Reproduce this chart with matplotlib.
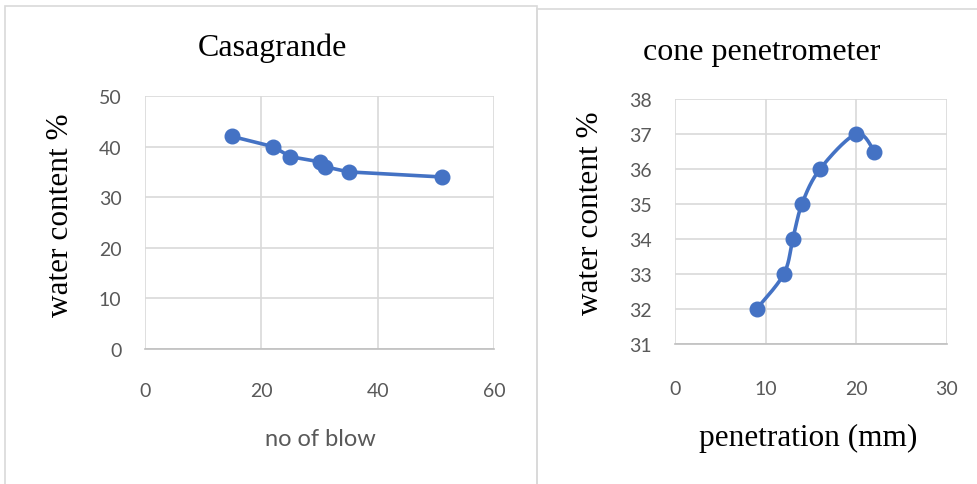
import numpy as np
import matplotlib
matplotlib.use("Agg")
import matplotlib.pyplot as plt
from matplotlib.patches import Rectangle

# ---- data ----
blows = [15, 22, 25, 30, 31, 35, 51]
wc_casa = [42, 40, 38, 37, 36, 35, 34]

penetration = [9, 12, 13, 14, 16, 20, 22]
wc_cone = [32, 33, 34, 35, 36, 37, 36.5]

left_xticks = [0, 20, 40, 60]
left_yticks = [0, 10, 20, 30, 40, 50]
right_xticks = [0, 10, 20, 30]
right_yticks = [31, 32, 33, 34, 35, 36, 37, 38]

BLUE = "#4472C4"
GRID = "#d9d9d9"
TICKC = "#595959"
SERIF = "Liberation Serif"
SANS = "Lato"

W, H = 977, 485
fig = plt.figure(figsize=(W / 100, H / 100), dpi=100)
fig.patch.set_facecolor("white")


def fx(px):
    return px / W


def fy(py):
    return 1 - py / H


# chart frames
fig.patches.append(Rectangle((fx(5), fy(490)), fx(532), (490 - 7) / H,
                             transform=fig.transFigure, fill=False,
                             edgecolor=GRID, lw=1.2))
fig.patches.append(Rectangle((fx(537), fy(490)), fx(450), (490 - 10) / H,
                             transform=fig.transFigure, fill=False,
                             edgecolor=GRID, lw=1.2))


def style(ax, xt, yt, xlim, ylim, xpad, ypad):
    ax.set_xlim(*xlim)
    ax.set_ylim(*ylim)
    ax.set_xticks(xt)
    ax.set_yticks(yt)
    for s in ["top", "right", "left"]:
        ax.spines[s].set_visible(False)
    ax.spines["bottom"].set_color("#bfbfbf")
    ax.spines["bottom"].set_linewidth(1.2)
    ax.grid(True, color=GRID, lw=1.2)
    ax.set_axisbelow(True)
    ax.tick_params(length=0, labelcolor=TICKC, labelsize=14)
    ax.tick_params(axis="x", pad=xpad)
    ax.tick_params(axis="y", pad=ypad)
    for lab in ax.get_xticklabels() + ax.get_yticklabels():
        lab.set_fontfamily(SANS)


# left chart
ax1 = fig.add_axes([fx(145), fy(350), fx(494 - 145), (350 - 97) / H])
style(ax1, left_xticks, left_yticks, (0, 60), (0, 50), 24, 17)
ax1.plot(blows, wc_casa, color=BLUE, lw=2.6, marker="o", ms=10.5,
         solid_capstyle="round")
fig.text(fx(272), fy(56), "Casagrande", family=SERIF, fontsize=23,
         ha="center", va="baseline")
fig.text(fx(61), fy(215), "water content %", family=SERIF, fontsize=22.5,
         rotation=90, ha="center", va="center")
fig.text(fx(320), fy(440), "no of blow", family=SANS, fontsize=17,
         color=TICKC, ha="center", va="center")

# right chart
ax2 = fig.add_axes([fx(675), fy(345), fx(947 - 675), (345 - 100) / H])
style(ax2, right_xticks, right_yticks, (0, 30), (31, 38), 26, 17)


def smooth(xs, ys, ax, n=30):
    # Excel-like smoothed line: cubic Bezier with Catmull-Rom control points
    xr = ax.get_xlim()
    yr = ax.get_ylim()
    bb = ax.get_position()
    sx = (bb.width * W) / (xr[1] - xr[0])
    sy = (bb.height * H) / (yr[1] - yr[0])
    P = np.column_stack([(np.array(xs) - xr[0]) * sx, (np.array(ys) - yr[0]) * sy])
    out = []
    m = len(P)
    for i in range(m - 1):
        p0 = P[i - 1] if i > 0 else P[i]
        p1, p2 = P[i], P[i + 1]
        p3 = P[i + 2] if i + 2 < m else P[i + 1]
        c1 = p1 + (p2 - p0) / 6
        c2 = p2 - (p3 - p1) / 6
        t = np.linspace(0, 1, n)[:, None]
        seg = ((1 - t) ** 3) * p1 + 3 * ((1 - t) ** 2) * t * c1 + 3 * (1 - t) * t ** 2 * c2 + t ** 3 * p2
        out.append(seg if i == 0 else seg[1:])
    pts = np.vstack(out)
    return pts[:, 0] / sx + xr[0], pts[:, 1] / sy + yr[0]


sxv, syv = smooth(penetration, wc_cone, ax2)
ax2.plot(sxv, syv, color=BLUE, lw=2.6, solid_capstyle="round")
ax2.plot(penetration, wc_cone, ls="none", marker="o", ms=10.5, color=BLUE)
fig.text(fx(762), fy(60), "cone penetrometer", family=SERIF, fontsize=23,
         ha="center", va="baseline")
fig.text(fx(591), fy(213), "water content %", family=SERIF, fontsize=22.5,
         rotation=90, ha="center", va="center")
fig.text(fx(808), fy(438), "penetration (mm)", family=SERIF, fontsize=22.5,
         ha="center", va="center")

fig.savefig("out.png", dpi=100)
